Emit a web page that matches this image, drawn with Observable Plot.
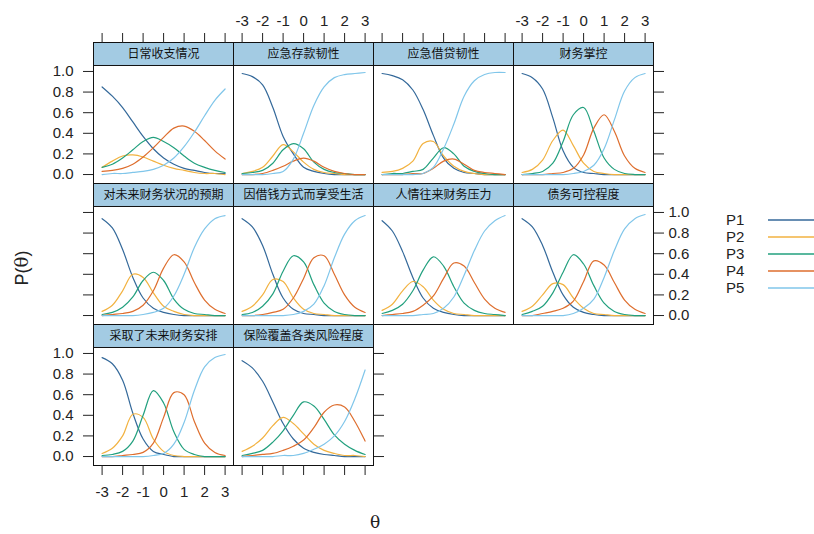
<!DOCTYPE html>
<html><head><meta charset="utf-8">
<script src="https://cdn.jsdelivr.net/npm/d3@7"></script>
<script src="https://cdn.jsdelivr.net/npm/@observablehq/plot@0.6"></script>
<style>
body{margin:0;background:#fff;}
#wrap{position:relative;width:814px;height:534px;overflow:hidden;background:#fff;font-family:"Liberation Sans",Arial,sans-serif;color:#222}
.lab{position:absolute;white-space:nowrap}
</style></head><body><div id="wrap"></div>
<script>
// ---- data ----
const theta = [-3,-2.5,-2,-1.5,-1,-0.5,0,0.5,1,1.5,2,2.5,3];
const titles = ["日常收支情况","应急存款韧性","应急借贷韧性","财务掌控",
  "对未来财务状况的预期","因借钱方式而享受生活","人情往来财务压力","债务可控程度",
  "采取了未来财务安排","保险覆盖各类风险程度"];
const categories = ["P1","P2","P3","P4","P5"];
const xTicks = [-3,-2,-1,0,1,2,3];
const yTicks = [0,0.2,0.4,0.6,0.8,1.0];

const P1 = [
  [0.85,0.76,0.65,0.51,0.37,0.25,0.16,0.10,0.06,0.04,0.02,0.01,0.01],
  [0.98,0.95,0.87,0.65,0.37,0.20,0.07,0.03,0.01,0,0,0,0],
  [0.98,0.96,0.92,0.82,0.63,0.38,0.16,0.06,0.02,0.01,0,0,0],
  [0.98,0.94,0.83,0.55,0.23,0.07,0.02,0.01,0,0,0,0,0],
  [0.94,0.85,0.64,0.37,0.17,0.07,0.03,0.01,0,0,0,0,0],
  [0.94,0.86,0.68,0.40,0.17,0.06,0.02,0.01,0,0,0,0,0],
  [0.92,0.82,0.62,0.37,0.17,0.07,0.03,0.01,0,0,0,0,0],
  [0.94,0.86,0.68,0.42,0.20,0.08,0.03,0.01,0,0,0,0,0],
  [0.96,0.90,0.74,0.42,0.17,0.05,0.02,0,0,0,0,0,0],
  [0.93,0.86,0.73,0.53,0.32,0.17,0.08,0.04,0.02,0.01,0,0,0]
];
const P2 = [
  [0.07,0.13,0.18,0.19,0.17,0.13,0.09,0.06,0.04,0.02,0.01,0.01,0],
  [0.01,0.03,0.07,0.18,0.29,0.22,0.12,0.05,0.02,0.01,0,0,0],
  [0.02,0.03,0.06,0.13,0.30,0.32,0.18,0.08,0.03,0.01,0,0,0],
  [0.02,0.05,0.14,0.33,0.43,0.28,0.11,0.03,0.01,0,0,0,0],
  [0.04,0.10,0.24,0.40,0.37,0.22,0.09,0.04,0.01,0,0,0,0],
  [0.04,0.09,0.20,0.35,0.33,0.17,0.06,0.02,0.01,0,0,0,0],
  [0.05,0.11,0.24,0.33,0.28,0.15,0.06,0.02,0.01,0,0,0,0],
  [0.04,0.09,0.20,0.31,0.30,0.17,0.07,0.02,0.01,0,0,0,0],
  [0.03,0.08,0.20,0.41,0.38,0.17,0.05,0.01,0,0,0,0,0],
  [0.05,0.10,0.18,0.30,0.38,0.32,0.22,0.12,0.06,0.03,0.01,0.01,0]
];
const P3 = [
  [0.07,0.10,0.16,0.24,0.32,0.36,0.32,0.26,0.18,0.11,0.07,0.04,0.02],
  [0.01,0.02,0.04,0.11,0.24,0.30,0.25,0.12,0.05,0.02,0.01,0,0],
  [0,0.01,0.01,0.03,0.05,0.16,0.26,0.20,0.08,0.03,0.01,0,0],
  [0,0.01,0.03,0.11,0.32,0.58,0.65,0.42,0.16,0.05,0.01,0,0],
  [0.01,0.03,0.08,0.18,0.34,0.42,0.34,0.16,0.06,0.02,0.01,0,0],
  [0.01,0.03,0.09,0.21,0.43,0.58,0.52,0.30,0.12,0.04,0.01,0,0],
  [0.02,0.05,0.11,0.24,0.44,0.57,0.48,0.28,0.12,0.05,0.02,0.01,0],
  [0.01,0.04,0.09,0.22,0.42,0.59,0.50,0.29,0.12,0.04,0.01,0,0],
  [0.01,0.02,0.05,0.15,0.40,0.64,0.52,0.24,0.07,0.02,0,0,0],
  [0.01,0.03,0.06,0.14,0.25,0.40,0.53,0.49,0.36,0.21,0.12,0.06,0.02]
];
const P4 = [
  [0.03,0.04,0.06,0.10,0.17,0.26,0.36,0.45,0.47,0.42,0.33,0.23,0.15],
  [0,0,0.01,0.04,0.08,0.13,0.16,0.13,0.07,0.03,0.01,0,0],
  [0,0,0,0.01,0.01,0.06,0.13,0.15,0.10,0.04,0.02,0.01,0],
  [0,0,0,0.01,0.02,0.06,0.19,0.45,0.58,0.42,0.18,0.06,0.02],
  [0,0.01,0.02,0.04,0.10,0.24,0.46,0.59,0.52,0.32,0.15,0.06,0.02],
  [0,0,0.01,0.03,0.06,0.17,0.36,0.56,0.58,0.40,0.20,0.08,0.03],
  [0,0.01,0.02,0.04,0.10,0.19,0.36,0.51,0.48,0.32,0.16,0.07,0.03],
  [0,0,0.02,0.04,0.07,0.14,0.33,0.53,0.49,0.32,0.15,0.06,0.02],
  [0,0,0.01,0.02,0.04,0.13,0.38,0.62,0.60,0.34,0.13,0.04,0.01],
  [0,0.01,0.02,0.03,0.06,0.10,0.16,0.28,0.43,0.50,0.48,0.34,0.15]
];
const P5 = [
  [0,0.01,0.01,0.02,0.03,0.05,0.09,0.16,0.27,0.41,0.57,0.72,0.83],
  [0,0,0,0.01,0.03,0.15,0.40,0.67,0.85,0.94,0.97,0.98,0.99],
  [0,0,0,0,0.01,0.07,0.25,0.49,0.76,0.91,0.97,0.99,0.99],
  [0,0,0,0,0,0.01,0.03,0.09,0.25,0.53,0.81,0.94,0.98],
  [0,0,0,0,0.01,0.03,0.07,0.19,0.40,0.66,0.84,0.94,0.97],
  [0,0,0,0,0,0.01,0.04,0.11,0.29,0.56,0.79,0.92,0.97],
  [0,0,0,0,0.01,0.02,0.07,0.18,0.39,0.63,0.82,0.92,0.97],
  [0,0,0,0,0,0.02,0.07,0.16,0.37,0.63,0.84,0.94,0.98],
  [0,0,0,0,0,0.01,0.03,0.12,0.33,0.64,0.87,0.96,0.99],
  [0,0,0,0,0.01,0.01,0.03,0.07,0.12,0.20,0.34,0.56,0.84]
];

// ---- styling / layout ----
const colors = ["#34699a","#f2b240","#22a07e","#de6e2e","#80c6ea"];
const stripFill = "#a3cbe3";
const colLeft = [93,233,373,513];
const rowTop = [42,183,324];
const PW = 140, PH = 141;
const xDomain = [-3.42, 3.41];
const yDomain = [-0.087, 1.281];
const yPlotTop = 1.058;

const wrap = document.getElementById("wrap");
const series = [P1,P2,P3,P4,P5];
const fmtX = d => String(d), fmtY = d => d.toFixed(1), none = () => "";

titles.forEach((title, i) => {
  const c = i % 4, r = Math.floor(i / 4);
  const data = [];
  series.forEach((s, j) => theta.forEach((t, k) => data.push({theta: t, p: s[i][k], cat: categories[j]})));
  const marks = [
    Plot.rect([title], {x1: xDomain[0], x2: xDomain[1], y1: yPlotTop, y2: yDomain[1], fill: stripFill}),
    Plot.text([title], {x: (xDomain[0] + xDomain[1]) / 2, y: (yPlotTop + yDomain[1]) / 2, text: d => d,
      fontSize: 12, fill: "#111", fontFamily: '"Noto Sans CJK SC", sans-serif'}),
    Plot.line(data, {x: "theta", y: "p", stroke: "cat", curve: "catmull-rom", strokeWidth: 1.2}),
    Plot.ruleY([yPlotTop], {stroke: "#111"}),
    Plot.frame({stroke: "#111"})
  ];
  if (r === 0) marks.push(Plot.axisX(xTicks, {anchor: "top", tickSize: 10, tickPadding: 7,
      tickFormat: (c === 1 || c === 3) ? fmtX : none, label: null}));
  if (i === 8 || i === 9) marks.push(Plot.axisX(xTicks, {anchor: "bottom", tickSize: 10, tickPadding: 11,
      tickFormat: i === 8 ? fmtX : none, label: null}));
  if (c === 0) marks.push(Plot.axisY(yTicks, {anchor: "left", tickSize: 10, tickPadding: 10,
      tickFormat: r !== 1 ? fmtY : none, label: null}));
  if (i === 3 || i === 7 || i === 9) marks.push(Plot.axisY(yTicks, {anchor: "right", tickSize: 10, tickPadding: 5,
      tickFormat: i === 7 ? fmtY : none, label: null}));
  const svg = Plot.plot({
    width: PW, height: PH, margin: 0,
    x: {domain: xDomain, label: null, axis: null},
    y: {domain: yDomain, label: null, axis: null},
    color: {domain: categories, range: colors},
    style: "background: transparent; overflow: visible; font-size: 15px; font-family: 'Liberation Sans', Arial, sans-serif; color: #222;",
    marks
  });
  svg.style.position = "absolute";
  svg.style.left = colLeft[c] + "px";
  svg.style.top = rowTop[r] + "px";
  wrap.appendChild(svg);
});

// axis titles
const yl = document.createElement("div");
yl.className = "lab";
yl.innerHTML = 'P(<span style="font-family:\'DejaVu Serif\',serif">θ</span>)';
Object.assign(yl.style, {left: "22px", top: "268px", fontSize: "18px", transform: "translate(-50%,-50%) rotate(-90deg)"});
wrap.appendChild(yl);
const xl = document.createElement("div");
xl.className = "lab";
xl.textContent = "θ";
Object.assign(xl.style, {left: "375px", top: "522px", fontSize: "17px", fontFamily: "'DejaVu Serif',serif", transform: "translate(-50%,-50%)"});
wrap.appendChild(xl);

// legend
const ns = "http://www.w3.org/2000/svg";
const leg = document.createElementNS(ns, "svg");
leg.setAttribute("width", 100); leg.setAttribute("height", 100);
Object.assign(leg.style, {position: "absolute", left: "720px", top: "205px"});
categories.forEach((k, j) => {
  const y = 15 + j * 17;
  const t = document.createElementNS(ns, "text");
  t.setAttribute("x", 6); t.setAttribute("y", y + 5);
  t.setAttribute("font-size", 15); t.setAttribute("fill", "#222");
  t.setAttribute("font-family", "Liberation Sans, Arial, sans-serif");
  t.textContent = k; leg.appendChild(t);
  const l = document.createElementNS(ns, "line");
  l.setAttribute("x1", 48); l.setAttribute("x2", 100); l.setAttribute("y1", y); l.setAttribute("y2", y);
  l.setAttribute("stroke", colors[j]); l.setAttribute("stroke-width", 1.5);
  leg.appendChild(l);
});
wrap.appendChild(leg);
</script></body></html>
